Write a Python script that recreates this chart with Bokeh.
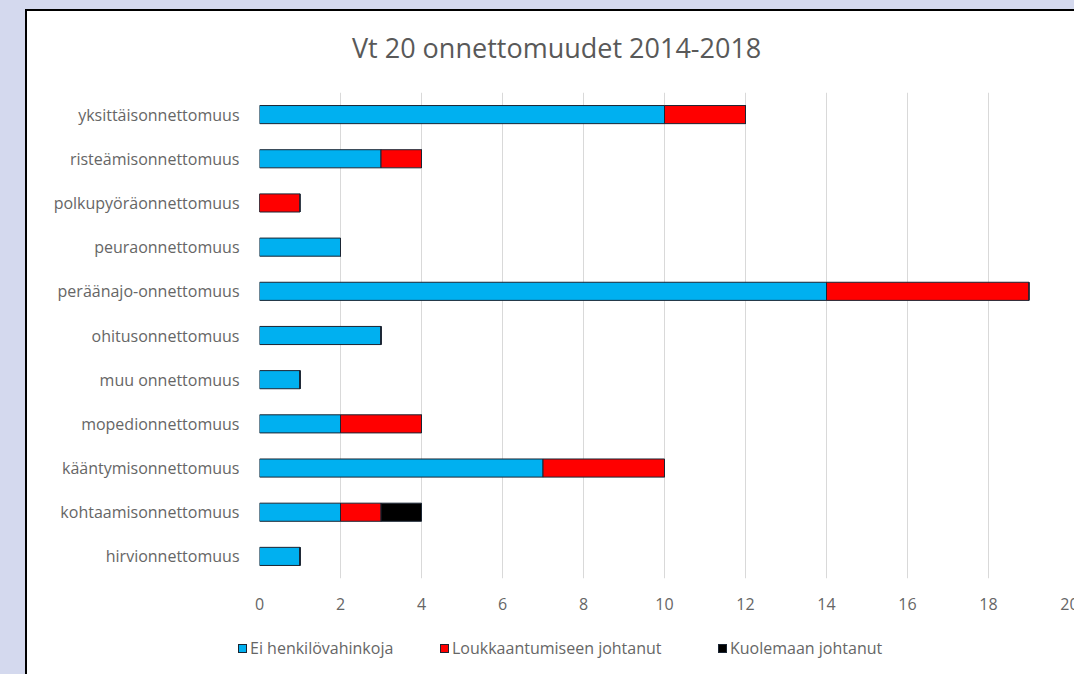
from bokeh.plotting import figure
from bokeh.layouts import column
from bokeh.models import ColumnDataSource, Range1d, FactorRange, FixedTicker, Div
from bokeh.embed import file_html
from bokeh.resources import INLINE

title_text = "Vt 20 onnettomuudet 2014-2018"
categories = ["yksittäisonnettomuus", "risteämisonnettomuus", "polkupyöräonnettomuus",
              "peuraonnettomuus", "peräänajo-onnettomuus", "ohitusonnettomuus",
              "muu onnettomuus", "mopedionnettomuus", "kääntymisonnettomuus",
              "kohtaamisonnettomuus", "hirvionnettomuus"]
ei_henkilovahinkoja = [10, 3, 0, 2, 14, 3, 1, 2, 7, 2, 1]
loukkaantumiseen = [2, 1, 1, 0, 5, 0, 0, 2, 3, 1, 0]
kuolemaan = [0, 0, 0, 0, 0, 0, 0, 0, 0, 1, 0]
series = ["Ei henkilövahinkoja", "Loukkaantumiseen johtanut", "Kuolemaan johtanut"]
colors = ["#00b0f0", "#ff0000", "#000000"]
x_ticks = [0, 2, 4, 6, 8, 10, 12, 14, 16, 18, 20]

src = ColumnDataSource(dict(cat=categories, a=ei_henkilovahinkoja, b=loukkaantumiseen, c=kuolemaan))

FONT = "Open Sans"
GRAY = "#666666"
LINE = "#1a2533"
W = 1062

# title strip (HTML text)
title_html = (f'<div style="position:relative;width:{W}px;height:60px;font-family:\'Open Sans\';'
              f'font-size:27px;color:#595959;">'
              f'<span style="position:absolute;left:325px;top:21px;white-space:nowrap;line-height:32px;">'
              f'{title_text}</span></div>')
ttl = Div(text=title_html, width=W, height=60, styles={"margin": "0", "padding": "0"})

p = figure(width=W, height=555, output_backend="svg", toolbar_location=None,
           y_range=FactorRange(*list(reversed(categories)), range_padding=0),
           x_range=Range1d(0, 20),
           min_border_left=232, min_border_right=20, min_border_top=21, min_border_bottom=48)
p.title.visible = False
p.background_fill_color = "white"
p.border_fill_color = "white"
p.outline_line_color = None

rs = p.hbar_stack(["a", "b", "c"], y="cat", height=0.41, source=src, color=colors,
                  line_color=LINE, line_width=1)

p.xaxis.ticker = FixedTicker(ticks=x_ticks)
p.xaxis.axis_line_color = None
p.xaxis.major_tick_line_color = None
p.xaxis.minor_tick_line_color = None
p.xaxis.major_label_text_font = FONT
p.xaxis.major_label_text_font_size = "16px"
p.xaxis.major_label_text_color = GRAY
p.xaxis.major_label_standoff = 13

p.yaxis.axis_line_color = None
p.yaxis.major_tick_line_color = None
p.yaxis.major_label_text_font = FONT
p.yaxis.major_label_text_font_size = "16px"
p.yaxis.major_label_text_color = GRAY
p.yaxis.major_label_standoff = 14

p.ygrid.grid_line_color = None
p.xgrid.grid_line_color = "#d9d9d9"
p.xgrid.grid_line_width = 1

# legend strip below the chart (HTML text)
item_left = [211, 413, 691]
items = "".join(
    f'<span style="position:absolute;left:{x}px;top:11px;white-space:nowrap;display:flex;align-items:center;">'
    f'<span style="display:inline-block;width:9px;height:9px;background:{c};border:1px solid {LINE};margin-right:3px;"></span>'
    f'{s}</span>'
    for x, c, s in zip(item_left, colors, series))
legend_html = (f'<div style="position:relative;width:{W}px;height:66px;font-family:\'Open Sans\';'
               f'font-size:16px;color:{GRAY};">{items}</div>')
leg = Div(text=legend_html, width=W, height=66, styles={"margin": "0", "padding": "0"})

layout = column(ttl, p, leg, spacing=0,
                styles={"border": "2px solid black", "background-color": "white"})

html = file_html(layout, INLINE)
head, sep, rest = html.rpartition("</head>")
rest = rest.replace("<body>", '<body style="margin:0;padding:9px 0 0 25px;background:#d4d9ee;overflow:hidden;height:auto;">', 1)
html = head + sep + rest
open("out.html", "w").write(html)
